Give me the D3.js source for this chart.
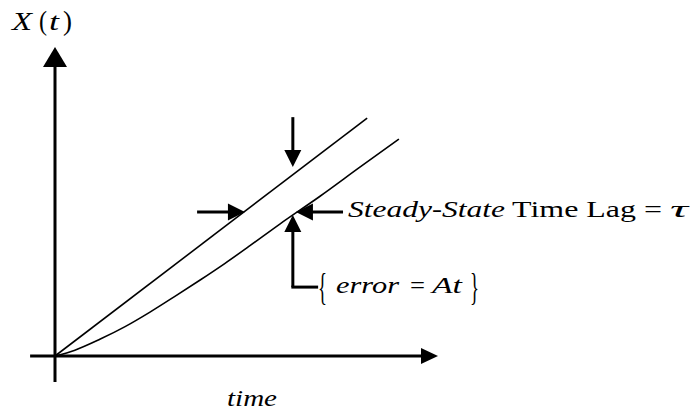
<!DOCTYPE html>
<html>
<head>
<meta charset="utf-8">
<script src="https://cdn.jsdelivr.net/npm/d3@7"></script>
<style>
  body { margin: 0; background: #fff; }
</style>
</head>
<body>
<div id="chart"></div>
<script>
// ramp input vs. lagged response (data units)
const inputTime = [0, 8.15];
const inputValue = [0, 7.70];

const responseTime = [0, 0.52, 1.17, 1.83, 2.48, 3.13, 3.79, 4.44, 5.09, 5.87, 6.92, 7.96, 8.98];
const responseValue = [0, 0.19, 0.54, 0.95, 1.42, 1.93, 2.46, 3.00, 3.57, 4.27, 5.17, 6.11, 7.02];

// axis extents (tail, tip)
const timeAxis = [-0.65, 10];
const valueAxis = [-0.84, 10];

// annotation anchors (data units)
const lagArrowY = 4.66;
const lagLeftArrow = [3.71, 4.96];   // -> pointing at input line
const lagRightArrow = [7.52, 6.29];  // <- pointing at response line
const downArrowT = 6.21;
const downArrow = [7.73, 6.12];
const errorArrowT = 6.21;
const errorArrow = [2.23, 4.56];
const errorElbowT = 6.87;

const width = 696, height = 413;

const svg = d3.select('#chart').append('svg')
    .attr('width', width)
    .attr('height', height);

const x = d3.scaleLinear().domain([0, 10]).range([55, 438]);
const y = d3.scaleLinear().domain([0, 10]).range([356, 47]);

// arrow helper: shaft + filled triangle head at (x2,y2)
function arrow(g, x1, y1, x2, y2, len, half, sw) {
    const dx = x2 - x1, dy = y2 - y1;
    const d = Math.hypot(dx, dy);
    const ux = dx / d, uy = dy / d;
    const bx = x2 - ux * len, by = y2 - uy * len;
    g.append('line')
        .attr('x1', x1).attr('y1', y1)
        .attr('x2', bx + ux * 2).attr('y2', by + uy * 2)
        .attr('stroke', '#000').attr('stroke-width', sw);
    g.append('path')
        .attr('d', `M${x2},${y2}L${bx - uy * half},${by + ux * half}L${bx + uy * half},${by - ux * half}Z`)
        .attr('fill', '#000');
}

const axes = svg.append('g');
// time axis
arrow(axes, x(timeAxis[0]), y(0), x(timeAxis[1]), y(0), 17, 8, 3);
// X(t) axis
arrow(axes, x(0), y(valueAxis[0]), x(0), y(valueAxis[1]), 20, 12, 3);

// input ramp and lagged response
const line = d3.line().x(d => x(d[0])).y(d => y(d[1]));
svg.append('path')
    .attr('d', line(d3.zip(inputTime, inputValue)))
    .attr('fill', 'none').attr('stroke', '#000').attr('stroke-width', 1.6);

svg.append('path')
    .attr('d', line.curve(d3.curveMonotoneX)(d3.zip(responseTime, responseValue)))
    .attr('fill', 'none').attr('stroke', '#000').attr('stroke-width', 1.6);

// annotations
const ann = svg.append('g');
arrow(ann, x(downArrowT), y(downArrow[0]), x(downArrowT), y(downArrow[1]), 17, 8.5, 3);
arrow(ann, x(lagLeftArrow[0]), y(lagArrowY), x(lagLeftArrow[1]), y(lagArrowY), 17, 8.5, 3);
arrow(ann, x(lagRightArrow[0]), y(lagArrowY), x(lagRightArrow[1]), y(lagArrowY), 17, 8.5, 3);
arrow(ann, x(errorArrowT), y(errorArrow[0]), x(errorArrowT), y(errorArrow[1]), 17, 8.5, 3);
ann.append('line')
    .attr('x1', x(errorArrowT) - 1.5).attr('x2', x(errorElbowT))
    .attr('y1', y(errorArrow[0])).attr('y2', y(errorArrow[0]))
    .attr('stroke', '#000').attr('stroke-width', 3);

// labels - the source picture is stretched sideways, so each run gets
// the width it takes there through textLength
// piece: {s, x, w, y, italic, size}
function label(pieces) {
    pieces.forEach(p => {
        svg.append('text')
            .attr('x', p.x).attr('y', p.y)
            .attr('textLength', p.w)
            .attr('lengthAdjust', 'spacingAndGlyphs')
            .attr('font-family', 'Liberation Serif, Times New Roman, serif')
            .attr('font-style', p.italic ? 'italic' : 'normal')
            .attr('font-size', p.size)
            .attr('fill', '#000')
            .text(p.s);
    });
}

label([
    { s: 'X', x: 12, w: 20, y: 30, italic: true, size: 26 },
    { s: '(', x: 39, w: 8, y: 30, size: 27 },
    { s: 't', x: 49, w: 10, y: 30, italic: true, size: 26 },
    { s: ')', x: 63, w: 9, y: 30, size: 27 }
]);

label([{ s: 'time', x: 227, w: 50, y: 406, italic: true, size: 24 }]);

label([
    { s: 'Steady', x: 348, w: 84, y: 217, italic: true, size: 24 },
    { s: '-', x: 432, w: 10, y: 217, size: 24 },
    { s: 'State', x: 442, w: 63, y: 217, italic: true, size: 24 },
    { s: 'Time Lag =', x: 512, w: 150, y: 217, size: 24 },
    { s: 'τ', x: 670, w: 18, y: 217, italic: true, size: 24 }
]);

label([
    { s: '{', x: 318, w: 9, y: 300, size: 38 },
    { s: 'error', x: 336, w: 63, y: 293, italic: true, size: 24 },
    { s: '=', x: 410, w: 15, y: 293, size: 24 },
    { s: 'At', x: 432, w: 30, y: 293, italic: true, size: 24 },
    { s: '}', x: 470, w: 9, y: 300, size: 38 }
]);
</script>
</body>
</html>
